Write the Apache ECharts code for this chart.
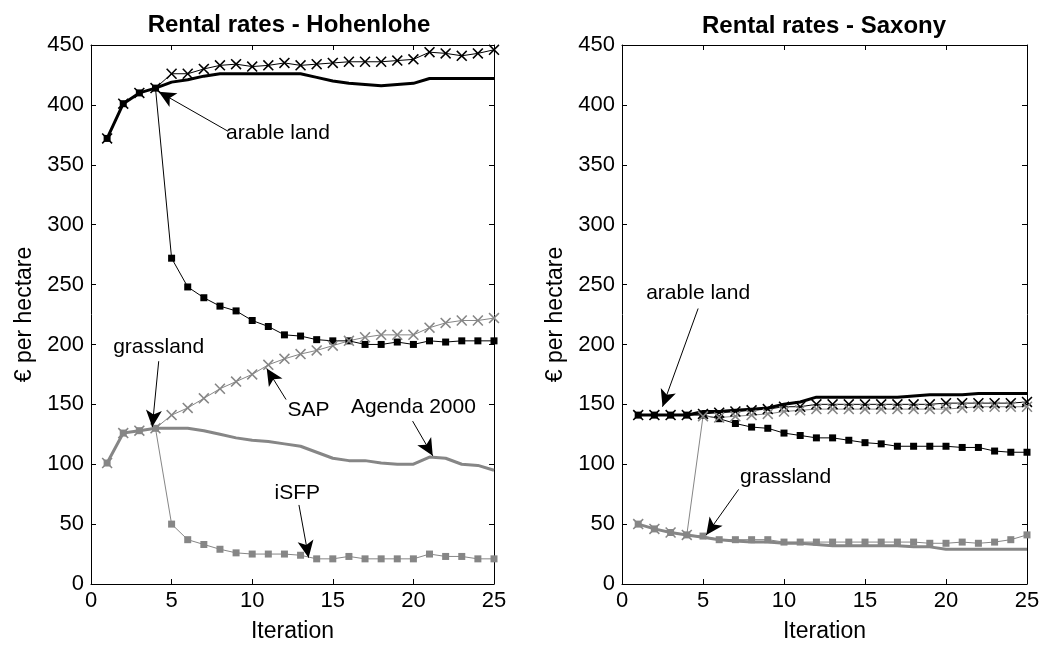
<!DOCTYPE html>
<html>
<head>
<meta charset="utf-8">
<script src="https://cdn.jsdelivr.net/npm/echarts@6/dist/echarts.min.js"></script>
<style>
  html, body { margin: 0; padding: 0; background: #fff; }
  #chart { width: 1044px; height: 648px; }
</style>
</head>
<body>
<div id="chart"></div>
<script>
// iterations 1..25
const iterations = [1,2,3,4,5,6,7,8,9,10,11,12,13,14,15,16,17,18,19,20,21,22,23,24,25]

// Hohenlohe
const hohArableAgenda = [372,401,410,414,419,421,424,426,426,426,426,426,426,423,420,418,417,416,417,418,422,422,422,422,422]
const hohArableSAP = [372,401,410,414,426,426,430,433,434,432,433,435,433,434,435,436,436,436,437,438,444,443,441,443,446]
const hohArableISFP = [372,401,410,414,272,248,239,232,228,220,215,208,207,204,203,203,200,200,202,200,203,202,203,203,203]
const hohGrassAgenda = [101,126,128,130,130,130,128,125,122,120,119,117,115,110,105,103,103,101,100,100,106,105,100,99,95]
const hohGrassSAP = [101,126,128,130,141,147,155,163,169,175,183,188,192,195,199,203,206,208,208,208,214,218,220,220,222]
const hohGrassISFP = [101,126,128,130,50,37,33,29,26,25,25,25,24,21,21,23,21,21,21,21,25,23,23,21,21]

// Saxony
const saxArableAgenda = [141,141,141,141,144,144,145,146,147,150,152,156,156,156,156,156,156,157,158,158,158,159,159,159,159]
const saxArableSAP = [141,141,141,141,142,143,144,145,146,148,148,150,150,150,150,150,150,150,150,151,151,151,151,151,152]
const saxArableISFP = [141,141,141,141,141,138,134,131,130,126,124,122,122,120,118,117,115,115,115,115,114,114,111,110,110]
const saxGrassAgenda = [50,46,43,41,39,37,36,35,35,34,34,33,32,32,32,32,32,31,31,29,29,29,29,29,29]
const saxGrassSAP = [50,46,43,41,140,139,140,141,142,144,145,146,146,146,146,146,146,146,146,146,147,148,148,148,148]
const saxGrassISFP = [50,46,43,41,40,37,37,37,37,35,35,35,35,35,35,35,35,35,34,34,35,34,35,37,41]

const titles = ['Rental rates - Hohenlohe', 'Rental rates - Saxony']
const yTicks = [0, 450, 50]
const xTicks = [0, 25, 5]

// annotations: [text, textX, textY, fromX, fromY, toX, toY]
const hohNotes = [
  ['arable land', 11.6, 376, 8.5, 378, 4.2, 411],
  ['grassland', 4.2, 198, 4.2, 186, 3.8, 131],
  ['SAP', 13.5, 145, 12.1, 154, 10.9, 180],
  ['Agenda 2000', 20, 148, 19.95, 136, 21.2, 107],
  ['iSFP', 12.8, 76, 12.9, 66, 13.5, 22]
]
const saxNotes = [
  ['arable land', 4.7, 243, 4.7, 230, 2.5, 148],
  ['grassland', 10.1, 89, 7.2, 79, 5.2, 41]
]

const GRAY = '#868686'
const FONT = 'Liberation Sans, Arial, sans-serif'
// thin "x" marker
const CROSS = 'path://M0,1L1,0L5,4L9,0L10,1L6,5L10,9L9,10L5,6L1,10L0,9L4,5Z'

function pairs(vals) {
  return iterations.map((it, i) => [it, vals[i]])
}

function noteMarks(notes) {
  return {
    markPoint: {
      silent: true,
      symbol: 'circle',
      symbolSize: 0,
      label: { show: true, position: 'inside', color: '#000', fontSize: 21, fontFamily: FONT, formatter: p => p.name },
      data: notes.map(n => ({ name: n[0], coord: [n[1], n[2]] }))
    },
    markLine: {
      silent: true,
      symbol: ['none', 'arrow'],
      symbolSize: [12, 17],
      label: { show: false },
      lineStyle: { color: '#000', width: 1, type: 'solid' },
      itemStyle: { color: '#000' },
      data: notes.map(n => [{ coord: [n[3], n[4]] }, { coord: [n[5], n[6]] }])
    }
  }
}

function panelSeries(idx, d, notes) {
  const base = { type: 'line', xAxisIndex: idx * 2, yAxisIndex: idx * 2, animation: false, z: 3 }
  return [
    Object.assign({}, base, { name: 'arable Agenda', data: pairs(d[0]), showSymbol: false, symbol: 'none', lineStyle: { color: '#000', width: 3 } }, noteMarks(notes)),
    Object.assign({}, base, { name: 'arable SAP', data: pairs(d[1]), symbol: CROSS, symbolSize: 11, itemStyle: { color: '#000' }, lineStyle: { color: '#000', width: 1 } }),
    Object.assign({}, base, { name: 'arable iSFP', data: pairs(d[2]), symbol: 'rect', symbolSize: 7, itemStyle: { color: '#000' }, lineStyle: { color: '#000', width: 1 } }),
    Object.assign({}, base, { name: 'grass Agenda', data: pairs(d[3]), showSymbol: false, symbol: 'none', lineStyle: { color: GRAY, width: 3 } }),
    Object.assign({}, base, { name: 'grass SAP', data: pairs(d[4]), symbol: CROSS, symbolSize: 11, itemStyle: { color: GRAY }, lineStyle: { color: GRAY, width: 1 } }),
    Object.assign({}, base, { name: 'grass iSFP', data: pairs(d[5]), symbol: 'rect', symbolSize: 7, itemStyle: { color: GRAY }, lineStyle: { color: GRAY, width: 1 } })
  ]
}

const grids = [
  { left: 91, top: 45, width: 403, height: 539 },
  { left: 622, top: 45, width: 405, height: 539 }
]

const xAxes = []
const yAxes = []
grids.forEach((g, i) => {
  const common = { type: 'value', gridIndex: i, splitLine: { show: false },
    axisLine: { show: true, onZero: false, lineStyle: { color: '#000', width: 1 } },
    axisTick: { show: true, inside: true, length: 5, lineStyle: { color: '#000' } } }
  xAxes.push(Object.assign({}, common, {
    position: 'bottom', min: xTicks[0], max: xTicks[1], interval: xTicks[2],
    name: 'Iteration', nameLocation: 'middle', nameGap: 36,
    nameTextStyle: { color: '#000', fontSize: 23, fontFamily: FONT },
    axisLabel: { color: '#000', fontSize: 22, fontFamily: FONT, margin: 6 }
  }))
  xAxes.push(Object.assign({}, common, {
    position: 'top', min: xTicks[0], max: xTicks[1], interval: xTicks[2], axisLabel: { show: false }
  }))
  yAxes.push(Object.assign({}, common, {
    position: 'left', min: yTicks[0], max: yTicks[1], interval: yTicks[2],
    name: '€ per hectare', nameLocation: 'middle', nameGap: 55,
    nameTextStyle: { color: '#000', fontSize: 23, fontFamily: FONT },
    axisLabel: { color: '#000', fontSize: 22, fontFamily: FONT, margin: 7 }
  }))
  yAxes.push(Object.assign({}, common, {
    position: 'right', min: yTicks[0], max: yTicks[1], interval: yTicks[2], axisLabel: { show: false }
  }))
})

const chart = echarts.init(document.getElementById('chart'))
chart.setOption({
  animation: false,
  backgroundColor: '#fff',
  title: [
    { text: titles[0], left: 284, top: 8, textAlign: 'center', textStyle: { fontSize: 24, fontWeight: 'bold', color: '#000', fontFamily: FONT } },
    { text: titles[1], left: 819, top: 9, textAlign: 'center', textStyle: { fontSize: 24, fontWeight: 'bold', color: '#000', fontFamily: FONT } }
  ],
  grid: grids,
  xAxis: xAxes,
  yAxis: yAxes,
  series: panelSeries(0, [hohArableAgenda, hohArableSAP, hohArableISFP, hohGrassAgenda, hohGrassSAP, hohGrassISFP], hohNotes)
    .concat(panelSeries(1, [saxArableAgenda, saxArableSAP, saxArableISFP, saxGrassAgenda, saxGrassSAP, saxGrassISFP], saxNotes))
})
</script>
</body>
</html>
